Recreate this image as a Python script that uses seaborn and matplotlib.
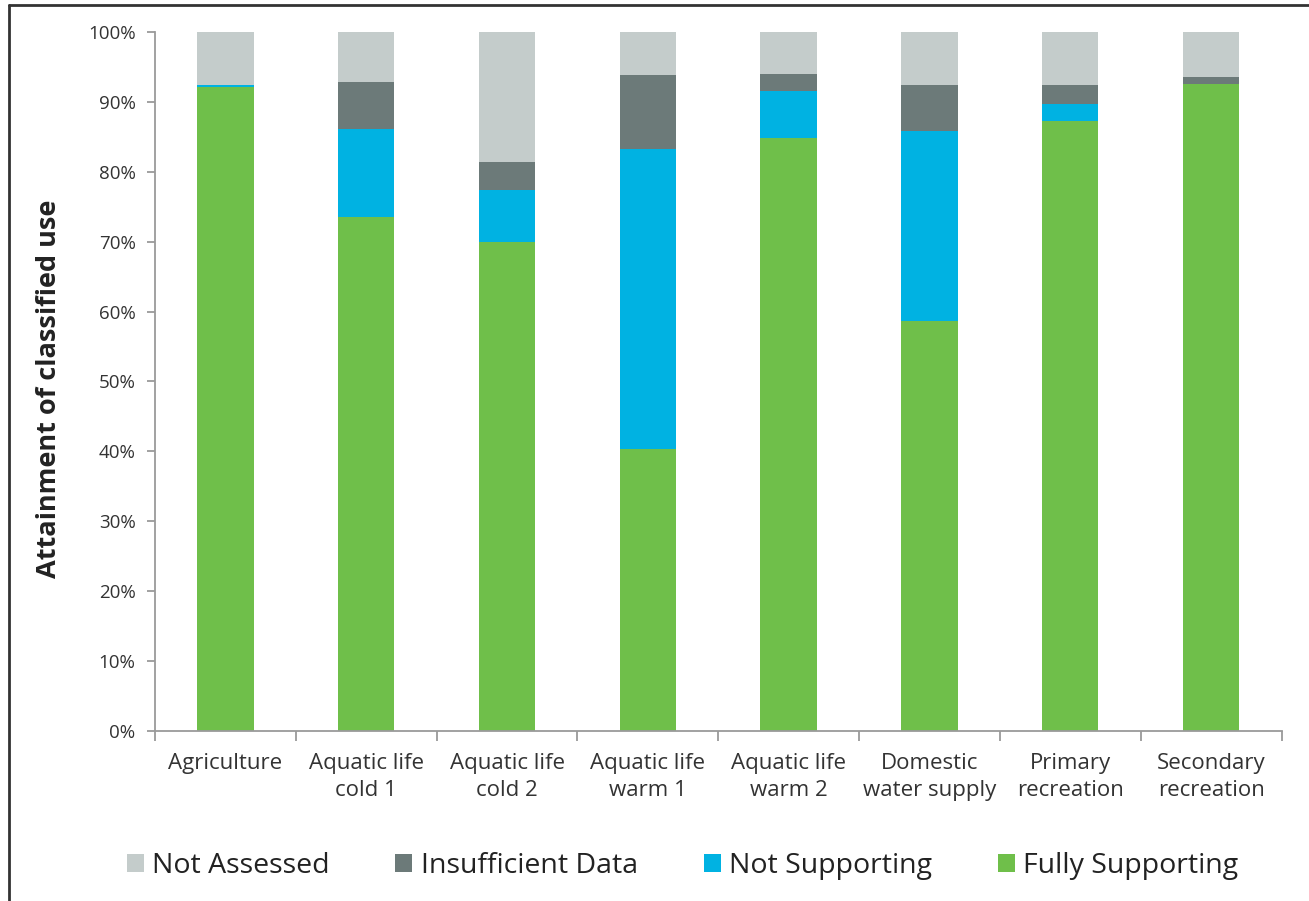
import matplotlib
matplotlib.use("Agg")
import matplotlib.pyplot as plt
import seaborn as sns
import pandas as pd
import numpy as np
from matplotlib.patches import Patch
from matplotlib.lines import Line2D
from matplotlib.ticker import PercentFormatter, FixedLocator

categories = ["Agriculture", "Aquatic life\ncold 1", "Aquatic life\ncold 2", "Aquatic life\nwarm 1",
              "Aquatic life\nwarm 2", "Domestic\nwater supply", "Primary\nrecreation", "Secondary\nrecreation"]
fully_supporting = [92.1, 73.6, 70.0, 40.3, 84.9, 58.7, 87.3, 92.6]
not_supporting = [0.3, 12.5, 7.4, 43.0, 6.7, 27.2, 2.4, 0.0]
insufficient_data = [0.0, 6.7, 4.0, 10.5, 2.4, 6.5, 2.7, 1.0]
not_assessed = [7.6, 7.2, 18.6, 6.2, 6.0, 7.6, 7.6, 6.4]

series_names = ["Fully Supporting", "Not Supporting", "Insufficient Data", "Not Assessed"]
colors = {"Fully Supporting": "#6FBF4A", "Not Supporting": "#00B2E2",
          "Insufficient Data": "#6C7A79", "Not Assessed": "#C4CCCB"}

sns.set_style("white")
plt.rcParams['font.family'] = ['Open Sans', 'DejaVu Sans']

df = pd.DataFrame({"category": categories,
                   "Fully Supporting": fully_supporting,
                   "Not Supporting": not_supporting,
                   "Insufficient Data": insufficient_data,
                   "Not Assessed": not_assessed})
cum = df[series_names].cumsum(axis=1) / 100.0

fig = plt.figure(figsize=(13.09, 9.01), dpi=100)
ax = fig.add_axes([0.1184, 0.1887, 0.979 - 0.1184, 0.9645 - 0.1887])

for name in reversed(series_names):
    sns.barplot(x=df["category"], y=cum[name], color=colors[name], width=0.4,
                ax=ax, saturation=1, order=categories, linewidth=0)

ax.set_ylim(0, 1)
ax.set_xlim(-0.5, len(categories) - 0.5)
ax.yaxis.set_major_locator(FixedLocator(np.arange(0, 1.01, 0.1)))
ax.yaxis.set_major_formatter(PercentFormatter(1.0, decimals=0))
ax.set_xlabel("")
ax.set_ylabel("Attainment of classified use", fontsize=19.5, fontweight="bold", color="#222222", labelpad=19)
ax.yaxis.label.set_y(0.49)

for s in ["top", "right"]:
    ax.spines[s].set_visible(False)
for s in ["left", "bottom"]:
    ax.spines[s].set_color("#9A9A9A")
    ax.spines[s].set_linewidth(1.3)

ax.tick_params(axis="y", which="major", left=True, length=6, width=1.3, color="#9A9A9A",
               labelsize=13.5, labelcolor="#333333", pad=8)
ax.tick_params(axis="x", which="major", bottom=False, labelsize=16, labelcolor="#333333", pad=12)
ax.xaxis.set_minor_locator(FixedLocator(np.arange(-0.5, len(categories), 1.0)))
ax.tick_params(axis="x", which="minor", bottom=True, length=7, width=1.3, color="#9A9A9A")
for lbl in ax.get_xticklabels():
    lbl.set_linespacing(1.4)

handles = [Patch(facecolor=colors[n], edgecolor="none", label=n) for n in reversed(series_names)]
fig.legend(handles=handles, loc="center", bbox_to_anchor=(0.5215, 0.039), ncol=4, frameon=False,
           fontsize=20.5, handlelength=0.6, handleheight=0.6, handletextpad=0.3, columnspacing=2.3,
           labelcolor="#222222")

fig.add_artist(Line2D([9 / 1309, 9 / 1309], [0, 1 - 5 / 901], transform=fig.transFigure,
                      color="#333333", linewidth=2))
fig.add_artist(Line2D([9 / 1309, 1], [1 - 5 / 901, 1 - 5 / 901], transform=fig.transFigure,
                      color="#333333", linewidth=2))

fig.savefig("out.png", dpi=100)
